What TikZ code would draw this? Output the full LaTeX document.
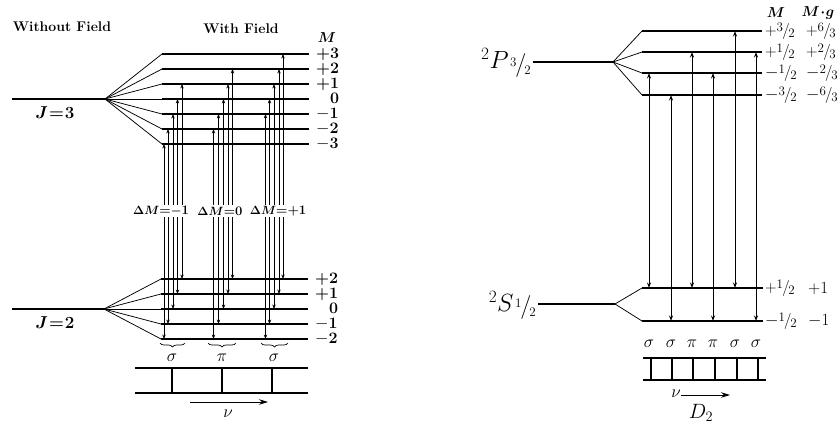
\documentclass[tikz,border=0pt]{standalone}
\usepackage{amsmath,bm}
\usetikzlibrary{arrows.meta,decorations.pathreplacing}
\newcommand{\fr}[3][10.5]{\raisebox{0.5ex}{\fontsize{#1}{#1}\selectfont#2}\kern-0.05em/\kern-0.08em\raisebox{-0.3ex}{\fontsize{#1}{#1}\selectfont#3}}
\begin{document}
\begin{tikzpicture}[x=1pt,y=-1pt,
  lvl/.style={line width=2.6pt},
  fanl/.style={line width=0.75pt},
  trl/.style={line width=0.5pt,{Stealth[length=4.5pt,width=3.4pt]}-{Stealth[length=4.5pt,width=3.4pt]}},
  trr/.style={line width=1pt,{Stealth[length=5.5pt,width=4pt]}-{Stealth[length=5.5pt,width=4pt]}},
  hdr/.style={font=\fontsize{14}{16}\selectfont\bfseries},
  mlab/.style={anchor=west,font=\fontsize{16}{18}\selectfont\bfseries,inner sep=0pt},
  rlab/.style={anchor=west,font=\fontsize{16}{18}\selectfont,inner sep=0pt},
  pol/.style={font=\fontsize{17}{19}\selectfont,inner sep=0pt},
  spec/.style={line width=1.4pt},
  tick/.style={line width=2.4pt},
  dm/.style={fill=white,inner sep=1.2pt,font=\fontsize{13}{15}\selectfont\bfseries}]
\useasboundingbox (0,0) rectangle (838,428);

% ---------------- left diagram ----------------
\node[hdr] (h1) at (62,27) {Without Field};
\node[hdr] (h2) at (241,29) {With Field};
\node[font=\fontsize{15}{17}\selectfont] (hM) at (327,38) {$\bm{M}$};

\coordinate (JU0) at (12,99);
\coordinate (JU) at (105,99);
\draw[lvl] (JU0) -- (JU);
\node[font=\fontsize{17}{19}\selectfont\bfseries] (J3) at (55,113) {$\bm{J}$\kern1pt=\kern1pt3};

\coordinate (JL0) at (12,309);
\coordinate (JL) at (104,309);
\draw[lvl] (JL0) -- (JL);
\node[font=\fontsize{17}{19}\selectfont\bfseries] (J2) at (55,323) {$\bm{J}$\kern1pt=\kern1pt2};

\foreach \n/\yy/\t in {p3/54/+3,p2/69/+2,p1/84/+1,z0/99/\phantom{+}0,m1/114/$-$1,m2/129/$-$2,m3/144/$-$3}{
  \coordinate (U\n) at (162,\yy);
  \coordinate (UE\n) at (309,\yy);
  \draw[fanl] (JU) -- (U\n);
  \draw[lvl] (U\n) -- (UE\n);
  \node[mlab] (UL\n) at (316,\yy) {\t};
}
\foreach \n/\yy/\t in {p2/279/+2,p1/294/+1,z0/309/\phantom{+}0,m1/324/$-$1,m2/339/$-$2}{
  \coordinate (L\n) at (161,\yy);
  \coordinate (LE\n) at (308,\yy);
  \draw[fanl] (JL) -- (L\n);
  \draw[lvl] (L\n) -- (LE\n);
  \node[mlab] (LL\n) at (315,\yy) {\t};
}

\foreach \x/\up/\lo in {164/m3/m2,168/m2/m1,173/m1/z0,177.5/z0/p1,182/p1/p2,
  213.5/m2/m2,218.5/m1/m1,223.5/z0/z0,228/p1/p1,232.5/p2/p2,
  265.5/m1/m2,269.5/z0/m1,274/p1/z0,279/p2/p1,283/p3/p2}{
  \draw[trl] (\x,0 |- L\lo) -- (\x,0 |- U\up);
}

\node[dm] (d1) at (161,211) {$\bm{\Delta M}$=$\bm{-}$1};
\node[dm] (d2) at (220,211) {$\bm{\Delta M}$=0};
\node[dm] (d3) at (278,211) {$\bm{\Delta M}$=+1};

\coordinate (b1a) at (160,343); \coordinate (b1b) at (185,343);
\coordinate (b2a) at (208,343); \coordinate (b2b) at (236,343);
\coordinate (b3a) at (261,343); \coordinate (b3b) at (288,343);
\foreach \a/\b in {b1a/b1b,b2a/b2b,b3a/b3b}{
  \draw[line width=0.7pt,decorate,decoration={brace,mirror,amplitude=4pt}] (\a) -- (\b);
}
\node[pol] (s1) at (172,358) {$\sigma$};
\node[pol] (p1) at (222,358) {$\pi$};
\node[pol] (s2) at (274,358) {$\sigma$};

\coordinate (sa1) at (135,368); \coordinate (sb1) at (308,368);
\coordinate (sa2) at (135,393); \coordinate (sb2) at (308,393);
\draw[spec] (sa1) -- (sb1);
\draw[spec] (sa2) -- (sb2);
\foreach \x in {172,222,272}{ \draw[tick] (\x,0 |- sa1) -- (\x,0 |- sa2); }
\coordinate (nu1) at (190,402); \coordinate (nu2) at (268,402);
\draw[line width=1pt,-{Stealth[length=9pt,width=5.5pt]}] (nu1) -- (nu2);
\node[pol] (nu) at (228,414) {$\nu$};

% ---------------- right diagram ----------------
\node[font=\fontsize{14}{16}\selectfont] (rM) at (776,13) {$\bm{M}$};
\node[font=\fontsize{14}{16}\selectfont] (rMg) at (818,13) {$\bm{M\!\cdot\! g}$};

\coordinate (P0) at (533,62);
\coordinate (P) at (613,62);
\draw[lvl] (P0) -- (P);
\node[anchor=east,inner sep=1pt,font=\fontsize{24}{26}\selectfont] (Plab) at (532,63) {$^{2}P$\kern1.5pt\raisebox{-3pt}{\fr[13]{3}{2}}};

\foreach \n/\yy/\a/\b in {p3/31/+\fr[13]{3}{2}/+\fr[13]{6}{3},p1/52/+\fr[13]{1}{2}/+\fr[13]{2}{3},m1/73/$-$\fr[13]{1}{2}/$-$\fr[13]{2}{3},m3/95/$-$\fr[13]{3}{2}/$-$\fr[13]{6}{3}}{
  \coordinate (RU\n) at (642,\yy);
  \coordinate (RUE\n) at (762,\yy);
  \draw[fanl] (P) -- (RU\n);
  \draw[lvl] (RU\n) -- (RUE\n);
  \node[rlab] (RUa\n) at (765,\yy) {\a};
  \node[rlab] (RUb\n) at (806,\yy) {\b};
}

\coordinate (S0) at (538,304);
\coordinate (S) at (615,304);
\draw[lvl] (S0) -- (S);
\node[anchor=east,inner sep=1pt,font=\fontsize{24}{26}\selectfont] (Slab) at (537,305) {$^{2}S$\kern1.5pt\raisebox{-2pt}{\fr[13]{1}{2}}};

\foreach \n/\yy/\a/\b in {p1/288/+\fr[13]{1}{2}/+1,m1/321/$-$\fr[13]{1}{2}/$-$1}{
  \coordinate (RL\n) at (642,\yy);
  \coordinate (RLE\n) at (763,\yy);
  \draw[fanl] (S) -- (RL\n);
  \draw[lvl] (RL\n) -- (RLE\n);
  \node[rlab] (RLa\n) at (765,\yy) {\a};
  \node[rlab,font=\fontsize{17}{19}\selectfont] (RLb\n) at (808,\yy) {\b};
}

\foreach \x/\up/\lo in {649/m1/p1,671/m3/m1,692/p1/p1,713/m1/m1,735/p3/p1,756/p1/m1}{
  \draw[trr] (\x,0 |- RL\lo) -- (\x,0 |- RU\up);
}

\foreach \x/\t in {649/\sigma,671/\sigma,692/\pi,713/\pi,735/\sigma,756/\sigma}{
  \node[pol] at (\x,344) {$\t$};
}

\coordinate (ra1) at (643,358); \coordinate (rb1) at (766,358);
\coordinate (ra2) at (643,380); \coordinate (rb2) at (766,380);
\draw[spec] (ra1) -- (rb1);
\draw[spec] (ra2) -- (rb2);
\foreach \x in {651,672,693,715,737,758}{ \draw[tick] (\x,0 |- ra1) -- (\x,0 |- ra2); }
\coordinate (rn1) at (681,395); \coordinate (rn2) at (730,395);
\draw[line width=1pt,-{Stealth[length=9pt,width=5.5pt]}] (rn1) -- (rn2);
\node[pol,anchor=east] (rnu) at (681,394) {$\nu$};
\node[font=\fontsize{21}{23}\selectfont] (D2) at (701,413) {$D_2$};
\end{tikzpicture}
\end{document}
